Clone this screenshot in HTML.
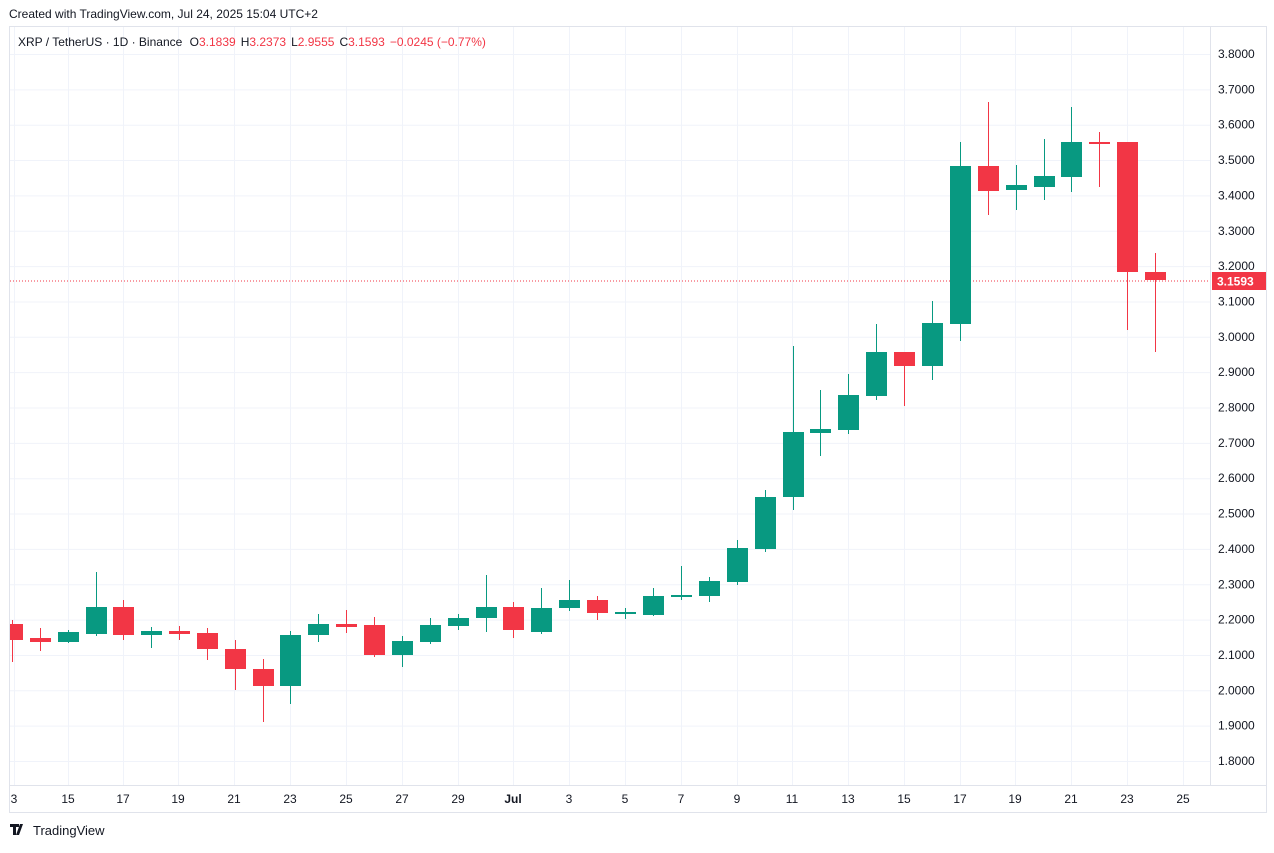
<!DOCTYPE html>
<html><head><meta charset="utf-8"><style>
body{margin:0;background:#fff;width:1274px;height:848px;overflow:hidden;font-family:"Liberation Sans",sans-serif}
</style></head><body>
<svg width="1274" height="848" xmlns="http://www.w3.org/2000/svg" font-family="Liberation Sans, sans-serif">
<text x="9" y="18" font-size="12" fill="#131722">Created with TradingView.com, Jul 24, 2025 15:04 UTC+2</text>
<rect x="9.5" y="26.5" width="1257" height="786" fill="#fff" stroke="#e0e3eb"/>
<line x1="1210.5" y1="27" x2="1210.5" y2="786" stroke="#e0e3eb"/>
<line x1="10" y1="785.5" x2="1266" y2="785.5" stroke="#e0e3eb"/>
<g id="grid" stroke="#f0f3fa" stroke-width="1"></g>
<g id="ylab" font-size="12" fill="#131722"></g>
<g id="xlab" font-size="12" fill="#131722" text-anchor="middle"></g>
<line x1="10" y1="281" x2="1210" y2="281" stroke="#F23645" stroke-dasharray="1,2"/>
<g id="c"></g>
<rect x="1212" y="272" width="54" height="18" fill="#F23645"/>
<text x="1217" y="285.5" font-size="12" font-weight="bold" fill="#fff">3.1593</text>
<text x="18" y="46" font-size="12" fill="#131722">XRP / TetherUS · 1D · Binance <tspan dx="4">O</tspan><tspan fill="#F23645">3.1839</tspan><tspan dx="5">H</tspan><tspan fill="#F23645">3.2373</tspan><tspan dx="5">L</tspan><tspan fill="#F23645">2.9555</tspan><tspan dx="5">C</tspan><tspan fill="#F23645">3.1593</tspan><tspan dx="5" fill="#F23645">−0.0245 (−0.77%)</tspan></text>
<g transform="translate(10,824)"><path d="M0 0h9v3h-3v8h-3v-8h-3z M10 0h3l-4 11h-3z" fill="#131722"/><circle cx="13" cy="2" r="0"/></g>
<text x="33" y="835" font-size="13" fill="#131722">TradingView</text>
</svg>
<script>
const ns="http://www.w3.org/2000/svg";
function el(p,t,a,txt){const e=document.createElementNS(ns,t);for(const k in a)e.setAttribute(k,a[k]);if(txt)e.textContent=txt;document.getElementById(p).appendChild(e);}
for(let i=0;i<=20;i++){const p=1.8+i*0.1;const y=761-(p-1.8)*353.5;if(y<30)continue;
el("grid","line",{x1:10,x2:1210,y1:y+.5,y2:y+.5});
el("ylab","text",{x:1218,y:y+4},p.toFixed(4));}
const xl=[["3",14],["15",68],["17",123],["19",178],["21",234],["23",290],["25",346],["27",402],["29",458],["Jul",513],["3",569],["5",625],["7",681],["9",737],["11",792],["13",848],["15",904],["17",960],["19",1015],["21",1071],["23",1127],["25",1183]];
xl.forEach(([t,x])=>{el("grid","line",{x1:x+.5,x2:x+.5,y1:27,y2:785});el("xlab","text",{x:x,y:803,"font-weight":t=="Jul"?"bold":"normal"},t);});
const G="#089981",R="#F23645";
const d=[[12,624,640,620,662,R],[40,638,642,628,651,R],[68,632,642,630,643,G],[96,607,634,572,636,G],[123,607,635,600,640,R],[151,631,635,627,648,G],[179,631,634,626,640,R],[207,633,649,628,660,R],[235,649,669,640,690,R],[263,669,686,659,722,R],[290,635,686,631,704,G],[318,624,635,614,642,G],[346,624,627,610,633,R],[374,625,655,617,657,R],[402,641,655,636,667,G],[430,625,642,618,644,G],[458,618,626,614,630,G],[486,607,618,575,632,G],[513,607,630,602,638,R],[541,608,632,588,634,G],[569,600,608,580,611,G],[597,600,613,596,620,R],[625,612,614,608,619,G],[653,596,615,588,616,G],[681,595,597,566,600,G],[709,581,596,577,602,G],[737,548,582,540,585,G],[765,497,549,490,552,G],[793,432,497,346,510,G],[820,429,433,390,456,G],[848,395,430,374,434,G],[876,352,396,324,400,G],[904,352,366,352,406,R],[932,323,366,301,380,G],[960,166,324,142,341,G],[988,166,191,102,215,R],[1016,185,190,165,210,G],[1044,176,187,139,200,G],[1071,142,177,107,192,G],[1099,142,144,132,187,R],[1127,142,272,142,330,R],[1155,272,280,253,352,R]];
d.forEach(([x,t,b,h,l,c])=>{el("c","line",{x1:x+.5,x2:x+.5,y1:h,y2:l,stroke:c});
const x0=Math.max(10,x-10);el("c","rect",{x:x0,y:t,width:x+11-x0,height:Math.max(1,b-t),fill:c});});
</script>
</body></html>
